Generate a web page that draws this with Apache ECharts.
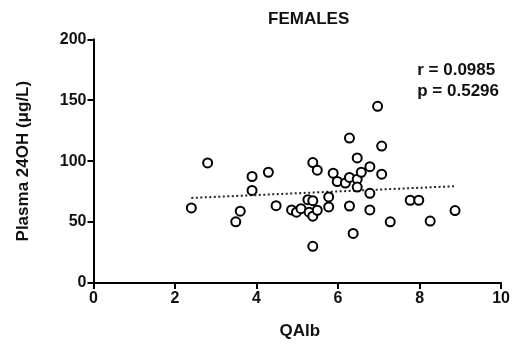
<!DOCTYPE html>
<html>
<head>
<meta charset="utf-8">
<script src="https://cdn.jsdelivr.net/npm/echarts@6/dist/echarts.min.js"></script>
<style>html,body{margin:0;padding:0;background:#fff}#c{width:513px;height:345px}</style>
</head>
<body>
<div id="c"></div>
<script>
const qalb = [2.40, 2.80, 3.49, 3.60, 3.89, 3.89, 4.29, 4.48, 4.86, 4.98, 5.09, 5.26, 5.29, 5.38, 5.38, 5.49, 5.38, 5.49, 5.38, 5.77, 5.77, 5.88, 5.98, 6.18, 6.28, 6.28, 6.28, 6.37, 6.47, 6.47, 6.47, 6.57, 6.78, 6.78, 6.78, 6.97, 7.07, 7.07, 7.28, 7.77, 7.98, 8.26, 8.87];
const plasma24OH = [61.6, 98.5, 50.2, 58.9, 87.4, 76.0, 90.9, 63.5, 60.0, 58.1, 61.0, 68.4, 58.1, 67.6, 54.8, 59.7, 98.8, 92.6, 30.1, 70.6, 62.4, 90.1, 83.3, 82.0, 86.6, 118.9, 63.2, 40.7, 102.6, 85.2, 78.7, 90.9, 95.5, 73.6, 60.0, 145.0, 112.4, 89.3, 50.2, 67.9, 67.9, 50.8, 59.4];
const trendX = [2.4, 8.9];
const trendY = [69.8, 79.5];
const xTicks = [0, 2, 4, 6, 8, 10];
const yTicks = [0, 50, 100, 150, 200];
const titleText = 'FEMALES';
const statLines = ['r = 0.0985', 'p = 0.5296'];

const FF = '"Liberation Sans", Arial, sans-serif';
const chart = echarts.init(document.getElementById('c'), null, {renderer: 'canvas'});
chart.setOption({
  animation: false,
  backgroundColor: '#fff',
  grid: {left: 93.5, right: 8.5, top: 39.3, bottom: 60, containLabel: false},
  xAxis: {
    type: 'value', min: xTicks[0], max: xTicks[xTicks.length - 1], interval: 2,
    name: 'QAlb', nameLocation: 'middle', nameGap: 40,
    nameTextStyle: {fontFamily: FF, fontWeight: 'bold', fontSize: 17, color: '#111', padding: [0, 0, 0, 5]},
    axisLine: {lineStyle: {color: '#000', width: 2}},
    axisTick: {inside: false, length: 6, lineStyle: {color: '#000', width: 2}},
    axisLabel: {fontFamily: FF, fontWeight: 'bold', fontSize: 16, color: '#111', margin: 8, showMaxLabel: true},
    splitLine: {show: false}
  },
  yAxis: {
    type: 'value', min: yTicks[0], max: yTicks[yTicks.length - 1], interval: 50,
    name: 'Plasma 24OH (μg/L)', nameLocation: 'middle', nameGap: 62,
    nameTextStyle: {fontFamily: FF, fontWeight: 'bold', fontSize: 17, color: '#111'},
    axisLine: {lineStyle: {color: '#000', width: 2}},
    axisTick: {inside: false, length: 6, lineStyle: {color: '#000', width: 2}},
    axisLabel: {fontFamily: FF, fontWeight: 'bold', fontSize: 16, color: '#111', margin: 7},
    splitLine: {show: false}
  },
  graphic: [
    {type: 'text', left: 268, top: 11, style: {text: titleText, font: 'bold 17px ' + FF, fill: '#111'}},
    {type: 'text', right: 14, top: 60, style: {text: statLines.join('\n'), font: 'bold 17px ' + FF, fill: '#111', align: 'right', lineHeight: 21}}
  ],
  series: [
    {
      type: 'line', data: trendX.map((x, i) => [x, trendY[i]]), symbol: 'none',
      lineStyle: {color: '#222', width: 2, type: [2, 2.5]}, z: 1
    },
    {
      type: 'scatter', data: qalb.map((x, i) => [x, plasma24OH[i]]),
      symbol: 'circle', symbolSize: 9,
      itemStyle: {color: '#fff', borderColor: '#000', borderWidth: 2, opacity: 1}, z: 2
    }
  ]
});
</script>
</body>
</html>
